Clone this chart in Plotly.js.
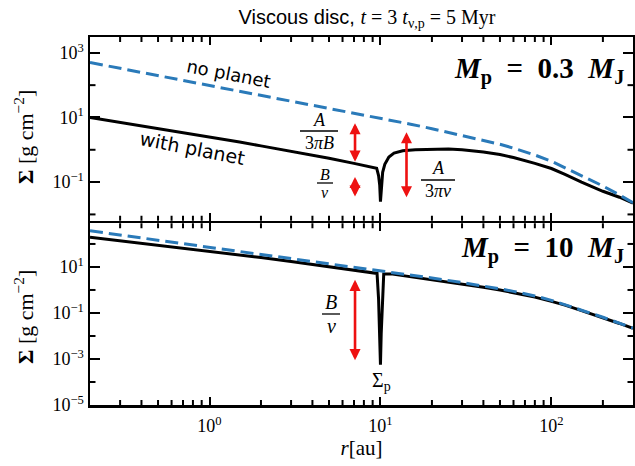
<!DOCTYPE html>
<html><head><meta charset="utf-8">
<script src="https://cdn.plot.ly/plotly-3.0.1.min.js"></script>
<style>html,body{margin:0;padding:0;background:#fff}</style>
</head><body><div id="chart" style="width:635px;height:466px"></div>
<script>
// ---- data (r in au, Sigma in g cm^-2) ----
const rTopNoPlanet = [0.2,0.3,0.5,0.7,1,1.5,2,3,5,7,10,15,20,30,40,50,60,80,100,120,150,200,250,300];
const sigTopNoPlanet = [501,331,200,141,100,66,50,33,19.5,13.8,9.5,6.2,4.5,2.8,2.0,1.48,1.12,0.69,0.44,0.28,0.16,0.076,0.040,0.023];

const rTopPlanet = [0.2,0.3,0.5,0.7,1,1.5,2,3,5,7,9,9.5,9.75,9.9,10,10.1,10.3,10.6,11.2,12,13.5,16,20,25,30,40,50,60,80,100,120,150,200,250,300];
const sigTopPlanet = [10,7.1,4.5,3.3,2.45,1.74,1.32,0.91,0.55,0.38,0.29,0.27,0.16,0.079,0.025,0.071,0.20,0.355,0.60,0.79,0.93,1.0,1.05,1.05,1.0,0.85,0.71,0.575,0.38,0.263,0.174,0.10,0.052,0.034,0.0224];

const rBotNoPlanet = [0.2,0.3,0.5,0.7,1,1.5,2,3,5,7,10,15,20,30,40,50,60,80,100,120,150,200,250,300];
const sigBotNoPlanet = [372,245,148,105,74,49,37,24.5,14.5,10.2,7.1,4.6,3.3,2.1,1.51,1.12,0.87,0.55,0.355,0.234,0.132,0.065,0.035,0.022];

const rBotPlanet = [0.2,0.3,0.5,0.7,1,1.5,2,3,5,7,9,9.55,9.75,9.9,10,10.1,10.25,10.45,11.5,15,20,30,40,50,60,80,100,120,150,200,250,300];
const sigBotPlanet = [195,138,89,66,48,34,25.7,17.4,10.5,7.6,5.75,5.25,0.40,0.0126,5.6e-4,0.0126,0.40,5.0,5.0,3.8,2.8,1.82,1.32,1.0,0.78,0.49,0.32,0.22,0.126,0.063,0.035,0.0214];

const xTickVals = [1,10,100];
const xTickText = ['10<sup>0</sup>','10<sup>1</sup>','10<sup>2</sup>'];
const xMinorVals = [0.3,0.4,0.5,0.6,0.7,0.8,0.9,2,3,4,5,6,7,8,9,20,30,40,50,60,70,80,90,200];
const yTopTickVals = [0.1,10,1000];
const yTopTickText = ['10<sup>−1</sup>','10<sup>1</sup>','10<sup>3</sup>'];
const yTopMinor = [0.01,1,100];
const yBotTickVals = [1e-5,1e-3,0.1,10];
const yBotTickText = ['10<sup>−5</sup>','10<sup>−3</sup>','10<sup>−1</sup>','10<sup>1</sup>'];
const yBotMinor = [1e-4,1e-2,1,100];

// ---- helpers for pixel->paper placement ----
const L=90, R=633, T=37, B=405;
const TOPB=220.75, BOTT=223.25;
const px = x => (x-L)/(R-L);
const py = y => (B-y)/(B-T);
const SERIF = 'Liberation Serif';
const BLUE = '#2a7ab9';
const XR = [Math.log10(0.2), Math.log10(300)];
const YTOP = [-2.196, 3.49];
const YBOT = [-5, 2.9];
const DTOP = [py(TOPB), 1];
const DBOT = [0, py(BOTT)];

const traces = [
  {x:rTopPlanet, y:sigTopPlanet, xaxis:'x2', yaxis:'y2', mode:'lines', line:{color:'black', width:3}},
  {x:rTopNoPlanet, y:sigTopNoPlanet, xaxis:'x2', yaxis:'y2', mode:'lines', line:{color:BLUE, width:3, dash:'13px,6px'}},
  {x:rBotPlanet, y:sigBotPlanet, xaxis:'x', yaxis:'y', mode:'lines', line:{color:'black', width:3}},
  {x:rBotNoPlanet, y:sigBotNoPlanet, xaxis:'x', yaxis:'y', mode:'lines', line:{color:BLUE, width:3, dash:'13px,6px'}}
];

const axBase = {
  type:'log', showgrid:false, zeroline:false, showline:true, linecolor:'black', linewidth:2.5,
  mirror:'ticks', ticks:'inside', tickcolor:'black', tickwidth:2,
  tickfont:{family:SERIF, size:18, color:'black'}, tickmode:'array'
};
const ax = o => Object.assign({}, axBase, o);

const layout = {
  width:635, height:466, showlegend:false,
  paper_bgcolor:'white', plot_bgcolor:'white',
  margin:{l:L, r:635-R, t:T, b:466-B},
  title:{text:'Viscous disc, <span style="font-family:Liberation Serif"><i>t</i> = 3 <i>t</i><sub>ν,p</sub> = 5 Myr</span>',
         font:{family:'Liberation Sans', size:20, color:'black'}, x:0.578, xanchor:'center', y:0.963, yanchor:'middle'},
  xaxis: ax({anchor:'y', domain:[0,1], range:XR, tickvals:xTickVals, ticktext:xTickText, ticklen:8, ticklabelstandoff:3,
    title:{text:'<i>r</i>[au]', font:{family:SERIF, size:21, color:'black'}, standoff:4}}),
  xaxis2: ax({anchor:'y2', domain:[0,1], range:XR, tickvals:xTickVals, ticklen:8, showticklabels:false}),
  yaxis: ax({anchor:'x', domain:DBOT, range:YBOT, tickvals:yBotTickVals, ticktext:yBotTickText, ticklen:10}),
  yaxis2: ax({anchor:'x2', domain:DTOP, range:YTOP, tickvals:yTopTickVals, ticktext:yTopTickText, ticklen:10}),
  annotations:[], shapes:[]
};

// minor tick marks (inside, on all four sides), positioned from the same log ranges as the axes
const H = B-T, W = R-L;
function seg(x0,y0,x1,y1,w){
  layout.shapes.push({type:'line', layer:'above', xref:'paper', yref:'paper', x0:x0, y0:y0, x1:x1, y1:y1, line:{color:'black', width:w}});
}
function minorX(vals, dom, len){
  vals.forEach(v => {
    const xp = (Math.log10(v)-XR[0])/(XR[1]-XR[0]);
    seg(xp, dom[0], xp, dom[0]+len/H, 2);
    seg(xp, dom[1], xp, dom[1]-len/H, 2);
  });
}
function minorY(vals, dom, rng, len){
  vals.forEach(v => {
    const yp = dom[0] + (Math.log10(v)-rng[0])/(rng[1]-rng[0])*(dom[1]-dom[0]);
    seg(0, yp, len/W, yp, 2);
    seg(1, yp, 1-len/W, yp, 2);
  });
}
minorX(xMinorVals, DBOT, 5);
minorX(xMinorVals, DTOP, 5);
minorY(yBotMinor, DBOT, YBOT, 5.5);
minorY(yTopMinor, DTOP, YTOP, 5.5);

function txt(x, y, text, size, opts){
  layout.annotations.push(Object.assign({xref:'paper', yref:'paper', x:px(x), y:py(y), text:text, showarrow:false,
    xanchor:'center', yanchor:'middle', font:{family:SERIF, size:size, color:'black'}}, opts||{}));
}
function frac(cx, yNum, yBar, yDen, half, num, den, size){
  txt(cx, yNum, num, size);
  txt(cx, yDen, den, size);
  seg(px(cx-half), py(yBar), px(cx+half), py(yBar), 1.3);
}
function arrow(xa, ya, xv, y0, y1){
  layout.annotations.push({xref:xa, yref:ya, axref:xa, ayref:ya, x:Math.log10(xv), ax:Math.log10(xv),
    y:Math.log10(y1), ay:Math.log10(y0), showarrow:true, arrowside:'end+start', arrowhead:2, arrowsize:0.85,
    arrowwidth:2.6, arrowcolor:'#ee1111', text:'', standoff:0, startstandoff:0});
}

// red arrows
arrow('x2','y2', 7.1, 7.4, 0.43);
arrow('x2','y2', 7.1, 0.16, 0.036);
arrow('x2','y2', 14.2, 3.9, 0.034);
arrow('x','y', 7.1, 3.2, 8.9e-4);

// fractions
frac(319, 120, 131, 143, 19, '<i>A</i>', '3<i>π</i><i>B</i>', 18);
frac(325, 174, 183, 192, 8, '<i>B</i>', '<i>ν</i>', 16);
frac(438, 168, 180, 191, 17, '<i>A</i>', '3<i>π</i><i>ν</i>', 18);
frac(331, 302, 314, 326, 9, '<i>B</i>', '<i>ν</i>', 20);

// Sigma_p label
txt(381, 381, 'Σ<sub>p</sub>', 20);

// curve labels
txt(228, 74, 'no planet', 18, {font:{family:'DejaVu Sans', size:18, color:'black'}, textangle:11});
txt(192, 148, 'with planet', 19, {font:{family:'DejaVu Sans', size:19, color:'black'}, textangle:11});

// panel labels
txt(626, 70, '<b><i>M</i><sub>p</sub>&nbsp;&nbsp;=&nbsp;&nbsp;0.3&nbsp;&nbsp;<i>M</i><sub>J</sub></b>', 29, {xanchor:'right'});
txt(626, 249, '<b><i>M</i><sub>p</sub>&nbsp;&nbsp;=&nbsp;&nbsp;10&nbsp;&nbsp;<i>M</i><sub>J</sub></b>', 29, {xanchor:'right'});

// y-axis titles
txt(24, 137, '<b>Σ</b> [g cm<sup>−2</sup>]', 22, {textangle:-90});
txt(24, 317, '<b>Σ</b> [g cm<sup>−2</sup>]', 22, {textangle:-90});

Plotly.newPlot('chart', traces, layout, {staticPlot:true, displayModeBar:false});
</script></body></html>
